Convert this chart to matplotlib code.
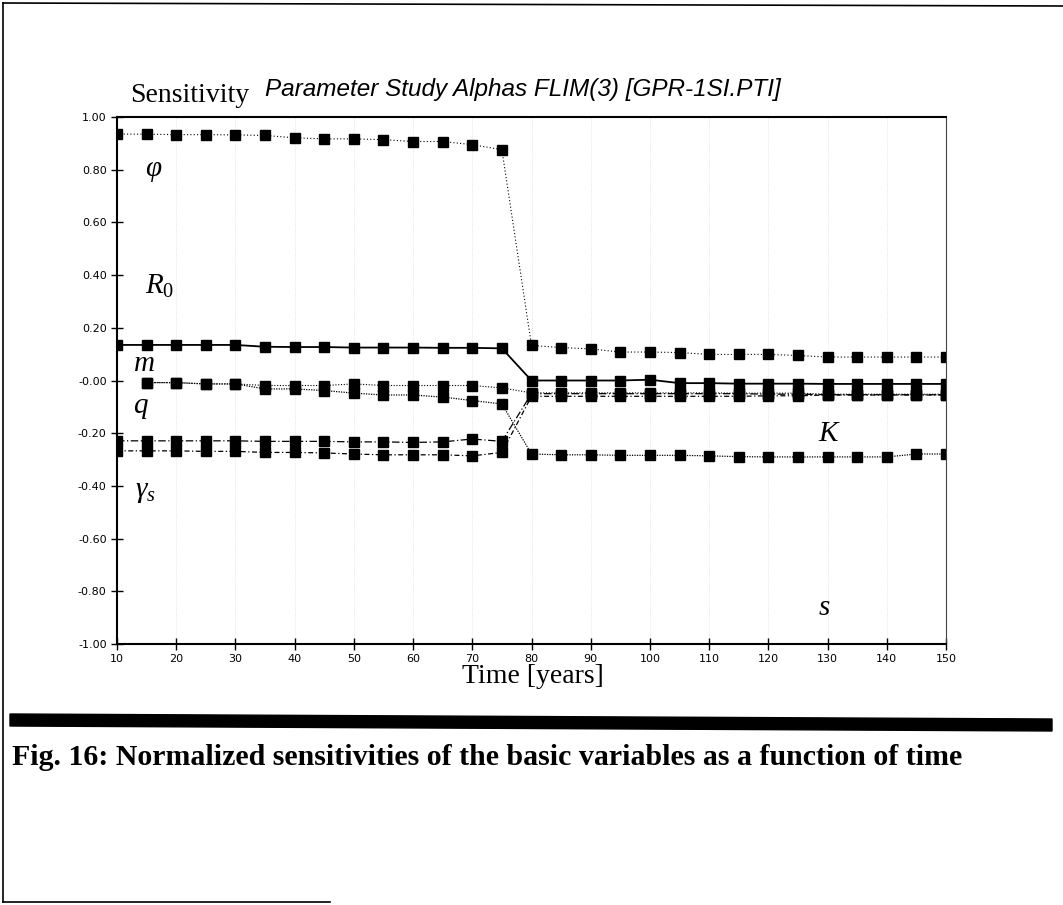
import numpy as np
import matplotlib
matplotlib.use("Agg")
import matplotlib.pyplot as plt
from matplotlib.lines import Line2D
from matplotlib.patches import Polygon

W, H = 1063, 905

# data (sensitivity vs time)
years = list(range(10, 155, 5))
nan = np.nan
phi = [0.935, 0.935, 0.933, 0.933, 0.932, 0.930, 0.921, 0.917, 0.917, 0.914, 0.907, 0.907, 0.895, 0.876,
       0.133, 0.125, 0.120, 0.108, 0.108, 0.106, 0.099, 0.099, 0.099, 0.095, 0.089, 0.089, 0.089, 0.089, 0.089]
r0 = [0.135, 0.135, 0.135, 0.135, 0.135, 0.128, 0.127, 0.127, 0.125, 0.125, 0.125, 0.124, 0.124, 0.122,
      0.000, 0.000, 0.000, 0.000, 0.003, -0.010, -0.010, -0.012, -0.012, -0.012, -0.013, -0.013, -0.013, -0.013, -0.013]
m = [nan, -0.008, -0.008, -0.013, -0.013, -0.019, -0.019, -0.019, -0.013, -0.019, -0.019, -0.019, -0.019, -0.028,
     -0.047, -0.047, -0.047, -0.047, -0.047, -0.047, -0.047, -0.048, -0.048, -0.048, -0.052, -0.052, -0.052, -0.052, -0.052]
q = [nan, -0.008, -0.008, -0.013, -0.013, -0.032, -0.032, -0.038, -0.048, -0.055, -0.055, -0.063, -0.076, -0.089,
     -0.279, -0.282, -0.282, -0.284, -0.284, -0.284, -0.286, -0.289, -0.290, -0.290, -0.290, -0.290, -0.290, -0.279, -0.279]
k_row = [-0.229, -0.229, -0.229, -0.229, -0.229, -0.231, -0.231, -0.231, -0.233, -0.233, -0.235, -0.233, -0.222, -0.231,
         -0.050, -0.050, -0.050, -0.050, -0.050, -0.050, -0.050, -0.050, -0.052, -0.052, -0.054, -0.054, -0.054, -0.054, -0.054]
g_row = [-0.267, -0.267, -0.267, -0.269, -0.269, -0.273, -0.273, -0.275, -0.279, -0.282, -0.282, -0.282, -0.286, -0.273,
         -0.060, -0.060, -0.060, -0.060, -0.060, -0.060, -0.060, -0.060, -0.058, -0.058, -0.055, -0.055, -0.055, -0.055, -0.055]

xticks = list(range(10, 151, 10))
yticks = [-1.0, -0.8, -0.6, -0.4, -0.2, 0.0, 0.2, 0.4, 0.6, 0.8, 1.0]
ytick_labels = ["-1.00", "-0.80", "-0.60", "-0.40", "-0.20", "-0.00", "0.20", "0.40", "0.60", "0.80", "1.00"]

# curve labels: (text, x, y)
curve_labels = [(r"$\varphi$", 14.7, 0.80), (r"$R_0$", 14.7, 0.36), (r"$m$", 12.7, 0.068),
                (r"$q$", 12.7, -0.10), (r"$\gamma_s$", 13.0, -0.42), (r"$K$", 128.4, -0.20),
                (r"$s$", 128.4, -0.86)]

plt.rcParams['mathtext.fontset'] = 'custom'
plt.rcParams['mathtext.it'] = 'Liberation Serif:italic'
plt.rcParams['mathtext.rm'] = 'Liberation Serif'

fig = plt.figure(figsize=(W / 100, H / 100), dpi=100)
ax = fig.add_axes([117 / W, 1 - 644 / H, (946 - 117) / W, (644 - 117) / H])

series = [
    (phi, (0, (1, 2)), 0.8),
    (r0, '-', 1.3),
    (m, (0, (1, 1.5)), 0.8),
    (q, (0, (1, 1)), 0.9),
    (k_row, (0, (6, 2, 1, 2)), 0.9),
    (g_row, (0, (4, 2, 1, 2)), 0.9),
]
for vals, ls, lw in series:
    ax.plot(years, vals, color='black', linestyle=ls, linewidth=lw,
            marker='s', markersize=6.5, markerfacecolor='black', markeredgecolor='black')

ax.set_xlim(10, 150)
ax.set_ylim(-1, 1)
ax.set_xticks(xticks)
ax.set_xticklabels([str(t) for t in xticks], fontsize=8, family='DejaVu Sans')
ax.set_yticks(yticks)
ax.set_yticklabels(ytick_labels, fontsize=8, family='DejaVu Sans')
ax.tick_params(axis='both', direction='inout', length=9, width=1)
ax.tick_params(axis='y', pad=3)
ax.tick_params(axis='x', pad=3)
ax.grid(axis='x', color='#dedede', linestyle=':', linewidth=0.6)

for side in ['left', 'bottom', 'top']:
    ax.spines[side].set_linewidth(1.5)
ax.spines['right'].set_linewidth(0.8)
ax.spines['right'].set_color('#444444')

for txt, x, y in curve_labels:
    ax.text(x, y, txt, fontsize=21, va='center', ha='left')

# texts around the plot (figure pixel positions)
fig.text(130 / W, 1 - 102 / H, "Sensitivity", family='Liberation Serif', fontsize=20, va='baseline')
fig.text(265 / W, 1 - 96 / H, "Parameter Study Alphas FLIM(3) [GPR-1SI.PTI]",
         family='Liberation Sans', style='italic', fontsize=17.5, va='baseline')
fig.text(533 / W, 1 - 664 / H, "Time [years]", family='Liberation Serif', fontsize=20, ha='center', va='top')
fig.text(12 / W, 1 - 765 / H, "Fig. 16: Normalized sensitivities of the basic variables as a function of time",
         family='Liberation Serif', weight='bold', fontsize=21.5, va='baseline')

# page frame and the thick separator bar of the scan
def px(x, y):
    return x / W, 1 - y / H

frame = [((3, 3), (1063, 6)), ((3, 3), (3, 902)), ((3, 902), (330, 902))]
for (x0, y0), (x1, y1) in frame:
    (a0, b0), (a1, b1) = px(x0, y0), px(x1, y1)
    fig.add_artist(Line2D([a0, a1], [b0, b1], color='black', linewidth=1.2, transform=fig.transFigure))
bar = [px(10, 714), px(1052, 719), px(1052, 731), px(10, 726)]
fig.add_artist(Polygon(bar, closed=True, color='black', transform=fig.transFigure))

fig.savefig("out.png", dpi=100)
